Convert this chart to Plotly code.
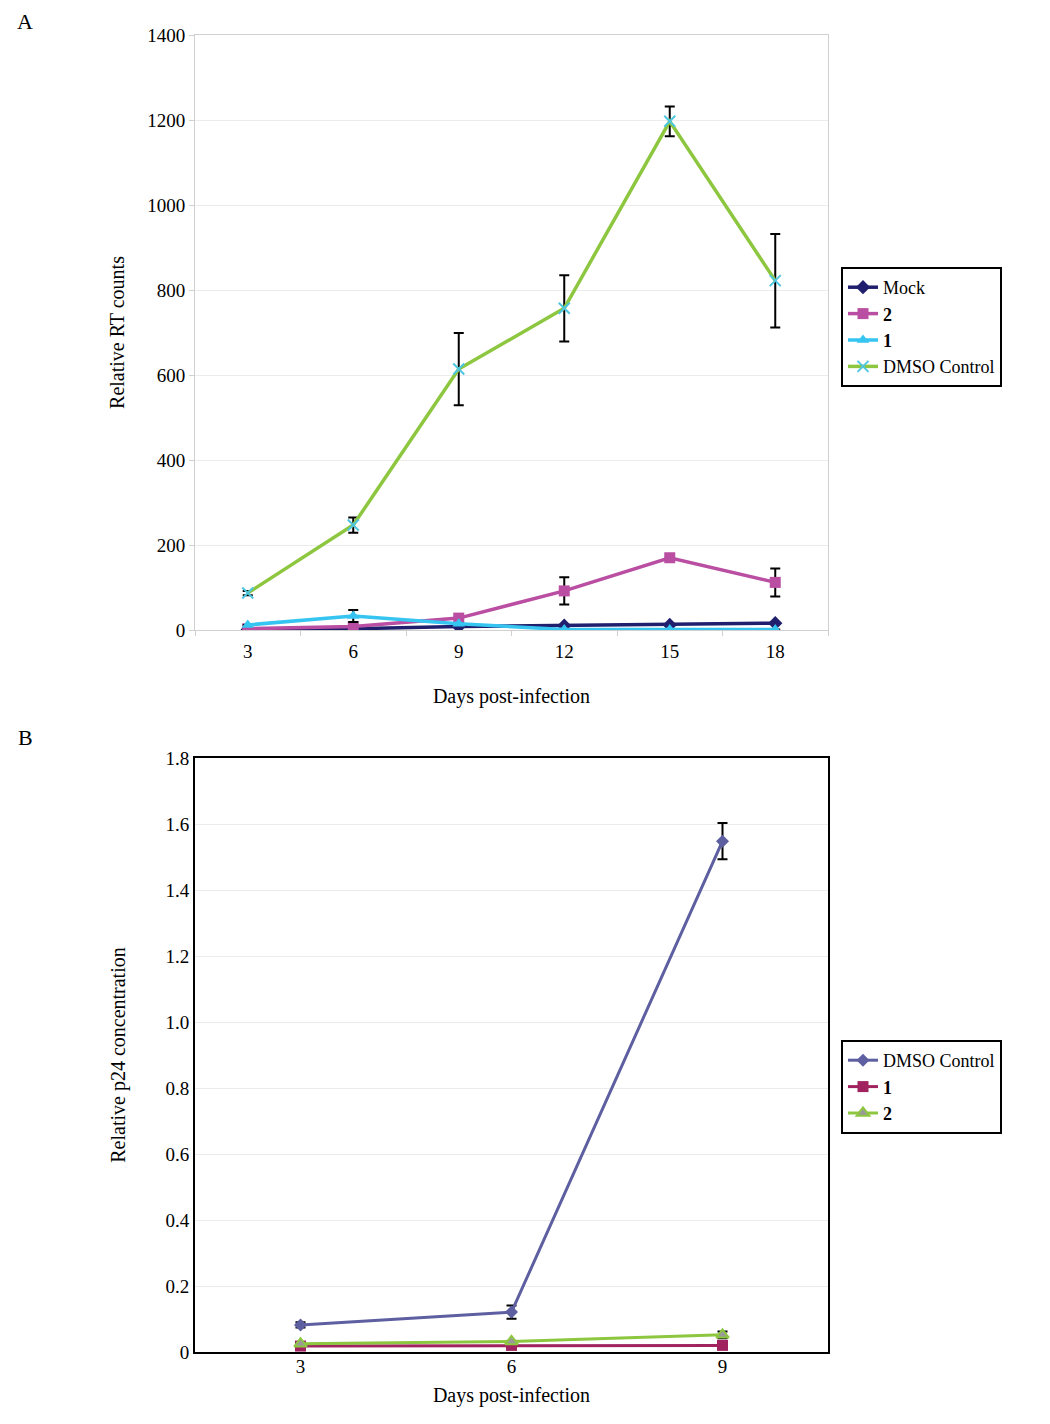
import plotly.graph_objects as go

# ---- panel A: RT counts ----
days_a = ["3", "6", "9", "12", "15", "18"]
mock_a = [1, 3, 8, 10, 12, 16]
cmpd2_a = [3, 8, 28, 92, 170, 112]
cmpd2_a_err = [0, 0, 0, 32, 0, 33]
cmpd1_a = [12, 33, 15, 1, 1, 1]
cmpd1_a_err = [0, 14, 0, 0, 0, 0]
dmso_a = [87, 247, 614, 757, 1197, 822]
dmso_a_err = [5, 18, 85, 78, 35, 110]

# ---- panel B: p24 ----
days_b = ["3", "6", "9"]
dmso_b = [0.082, 0.121, 1.548]
dmso_b_err = [0.008, 0.02, 0.055]
cmpd1_b = [0.018, 0.02, 0.02]
cmpd2_b = [0.025, 0.032, 0.052]
cmpd2_b_err = [0, 0, 0.01]

FONT = "Liberation Serif, Times New Roman, serif"
W, H = 1050, 1424
OFF = 8  # page body margin


def px(x):
    return (x - OFF) / W


def py(y):
    return 1 - (y - OFF) / H


def err(vals):
    return dict(type="data", array=vals, color="black", thickness=2, width=5)


fig = go.Figure()

# panel A traces
fig.add_trace(go.Scatter(
    x=days_a, y=mock_a, name="Mock", mode="lines+markers",
    line=dict(color="#1f1f6e", width=3.5),
    marker=dict(symbol="diamond", size=11, color="#1f1f6e"),
    xaxis="x", yaxis="y", legend="legend",
))
fig.add_trace(go.Scatter(
    x=days_a, y=cmpd2_a, name="<b>2</b>", mode="lines+markers",
    line=dict(color="#b94ea2", width=3.5),
    marker=dict(symbol="square", size=11, color="#b94ea2"),
    error_y=err(cmpd2_a_err),
    xaxis="x", yaxis="y", legend="legend",
))
fig.add_trace(go.Scatter(
    x=days_a, y=cmpd1_a, name="<b>1</b>", mode="lines+markers",
    line=dict(color="#35c5f0", width=3.5),
    marker=dict(symbol="triangle-up", size=11, color="#35c5f0"),
    error_y=err(cmpd1_a_err),
    xaxis="x", yaxis="y", legend="legend",
))
fig.add_trace(go.Scatter(
    x=days_a, y=dmso_a, name="DMSO Control", mode="lines+markers",
    line=dict(color="#8dc63f", width=3.5),
    marker=dict(symbol="x-thin", size=11, color="#4fc6e0",
                line=dict(color="#4fc6e0", width=2)),
    error_y=err(dmso_a_err),
    xaxis="x", yaxis="y", legend="legend",
))

# panel B traces
fig.add_trace(go.Scatter(
    x=days_b, y=dmso_b, name="DMSO Control", mode="lines+markers",
    line=dict(color="#5d5fa0", width=3),
    marker=dict(symbol="diamond", size=10, color="#5d5fa0"),
    error_y=err(dmso_b_err),
    xaxis="x2", yaxis="y2", legend="legend2",
))
fig.add_trace(go.Scatter(
    x=days_b, y=cmpd1_b, name="<b>1</b>", mode="lines+markers",
    line=dict(color="#a0235f", width=3),
    marker=dict(symbol="square", size=11, color="#a0235f"),
    xaxis="x2", yaxis="y2", legend="legend2",
))
fig.add_trace(go.Scatter(
    x=days_b, y=cmpd2_b, name="<b>2</b>", mode="lines+markers",
    line=dict(color="#8dc63f", width=3),
    marker=dict(symbol="triangle-up", size=11, color="#9a9a9a",
                line=dict(color="#8dc63f", width=2)),
    error_y=err(cmpd2_b_err),
    xaxis="x2", yaxis="y2", legend="legend2",
))

xdom = [px(195), px(828)]
tickfont = dict(family=FONT, size=19, color="black")
titlefont = dict(family=FONT, size=20, color="black")

legend_common = dict(
    font=dict(family=FONT, size=18, color="black"),
    bgcolor="white", bordercolor="black", borderwidth=2,
    xanchor="left", yanchor="top", tracegroupgap=0,
    itemwidth=30,
)

fig.update_layout(
    width=W, height=H,
    margin=dict(l=0, r=0, t=0, b=0, autoexpand=False),
    paper_bgcolor="white", plot_bgcolor="white",
    font=dict(family=FONT, color="black"),
    xaxis=dict(
        domain=xdom, anchor="y", type="category", range=[-0.5, 5.5],
        showline=True, linecolor="#d0d0d0", linewidth=1, mirror=True,
        ticks="outside", tickson="boundaries", ticklen=5, tickcolor="#d0d0d0",
        showgrid=False, tickfont=tickfont, ticklabelstandoff=4,
        title=dict(text="Days post-infection", font=titlefont, standoff=28),
    ),
    yaxis=dict(
        domain=[py(630), py(35)], anchor="x", range=[0, 1400], dtick=200,
        showline=True, linecolor="#d0d0d0", linewidth=1, mirror=True,
        ticks="outside", ticklen=5, tickcolor="#d0d0d0",
        gridcolor="#ececec", zeroline=False, tickfont=tickfont,
        title=dict(text="Relative RT counts", font=titlefont, standoff=17),
    ),
    xaxis2=dict(
        domain=xdom, anchor="y2", type="category", range=[-0.5, 2.5],
        showline=True, linecolor="black", linewidth=2, mirror=True,
        ticks="", showgrid=False, tickfont=tickfont, ticklabelstandoff=-4,
        title=dict(text="Days post-infection", font=titlefont, standoff=12),
    ),
    yaxis2=dict(
        domain=[py(1352), py(758)], anchor="x2", range=[0, 1.8],
        tickvals=[0, 0.2, 0.4, 0.6, 0.8, 1.0, 1.2, 1.4, 1.6, 1.8],
        ticktext=["0", "0.2", "0.4", "0.6", "0.8", "1.0", "1.2", "1.4", "1.6", "1.8"],
        showline=True, linecolor="black", linewidth=2, mirror=True,
        ticks="", gridcolor="#ececec", zeroline=False, tickfont=tickfont,
        title=dict(text="Relative p24 concentration", font=titlefont, standoff=34),
    ),
    legend=dict(x=px(841), y=py(267), **legend_common),
    legend2=dict(x=px(841), y=py(1040), **legend_common),
    annotations=[
        dict(text="A", x=px(25), y=py(22), xref="paper", yref="paper",
             xanchor="center", yanchor="middle", showarrow=False,
             font=dict(family=FONT, size=22, color="black")),
        dict(text="B", x=px(25), y=py(738), xref="paper", yref="paper",
             xanchor="center", yanchor="middle", showarrow=False,
             font=dict(family=FONT, size=22, color="black")),
    ],
)

fig.write_html("out.html")
